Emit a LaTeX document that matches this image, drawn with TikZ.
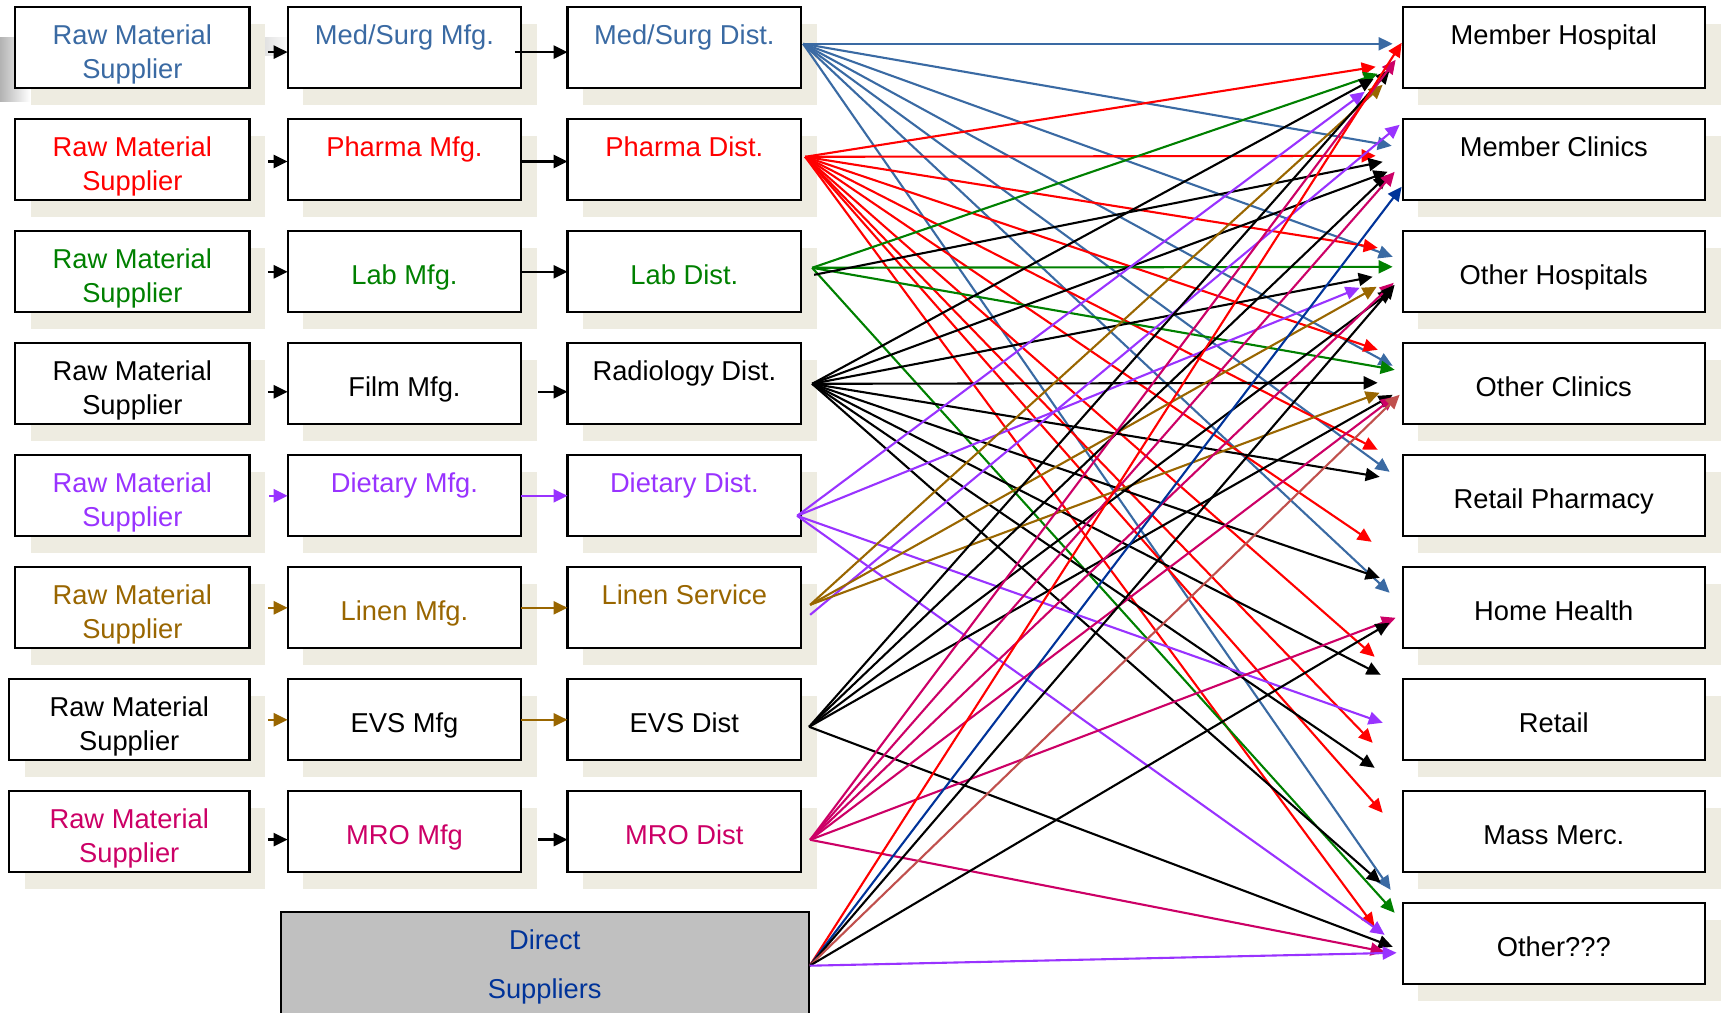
\documentclass[tikz,border=0pt]{standalone}
\usepackage{fontspec}
\setmainfont{Liberation Sans}
\usepackage{tikz}
\usetikzlibrary{arrows.meta, positioning, calc, shadows}
\definecolor{msblue}{RGB}{58,106,163}
\definecolor{phred}{RGB}{255,0,0}
\definecolor{lbgreen}{RGB}{0,128,0}
\definecolor{dtpurple}{RGB}{153,51,255}
\definecolor{lnbrown}{RGB}{153,102,0}
\definecolor{mrmagenta}{RGB}{204,0,102}
\definecolor{dsblue}{RGB}{0,51,153}
\definecolor{dsrust}{RGB}{192,80,77}
\definecolor{shtan}{RGB}{238,236,225}
\definecolor{dsgray}{RGB}{192,192,192}
\newcommand{\diagfont}{\fontsize{13.65pt}{16.8pt}\selectfont}
\newcommand{\dirfont}{\fontsize{13.65pt}{24.5pt}\selectfont}
\tikzset{
  box/.style={rectangle, draw=black, fill=white, line width=1.15pt,
    minimum height=40.5pt, inner sep=0pt, outer sep=0pt, align=center,
    font=\diagfont, text height=18.7pt, text depth=21.8pt,
    drop shadow={shadow xshift=7.8pt, shadow yshift=-8.2pt, fill=shtan, opacity=1}},
  midtext/.style={text height=26.65pt, text depth=13.85pt},
  twoline/.style={text height=35.5pt, text depth=5pt},
  wA/.style={minimum width=117.1pt},
  wAA/.style={minimum width=120.2pt},
  wB/.style={minimum width=116.8pt},
  wD/.style={minimum width=151.15pt},
  dirbox/.style={rectangle, draw=black, fill=dsgray, line width=1pt,
    minimum width=264pt, minimum height=60pt, inner sep=0pt, outer sep=0pt,
    align=center, font=\dirfont, text=dsblue, text height=43.3pt, text depth=16.7pt},
  steparrow/.style={-{Triangle[length=7pt,width=6.5pt]}, line width=1.3pt, color=black},
  arrow/.style={-{Triangle[length=7pt,width=6.5pt]}, line width=1.05pt, color=black},
  bluearrow/.style={arrow, color=msblue},
  redarrow/.style={arrow, color=phred},
  greenarrow/.style={arrow, color=lbgreen},
  purplearrow/.style={arrow, color=dtpurple},
  brownarrow/.style={arrow, color=lnbrown},
  magentaarrow/.style={arrow, color=mrmagenta},
  dblarrow/.style={arrow, color=dsblue},
  rustarrow/.style={arrow, color=dsrust}
}
\begin{document}
\begin{tikzpicture}[x=0.5pt, y=-0.5pt]
  \useasboundingbox (0,0) rectangle (1721,1013);
  \clip (0,0) rectangle (1721,1013);
  % slide leftovers behind the first row
  \shade[left color=gray!60, right color=white] (0,37) rectangle (30,101);
  \shade[left color=gray!35, right color=white] (250,37) rectangle (292,55);

  % manufacturers
  \node[box, wB, text=msblue] (msmfg) at (404.45,47.8) {Med/Surg Mfg.};
  \node[box, wB, text=phred, below=15.5pt of msmfg] (phmfg) {Pharma Mfg.};
  \node[box, midtext, wB, text=lbgreen, below=15.5pt of phmfg] (lbmfg) {Lab Mfg.};
  \node[box, midtext, wB, below=15.5pt of lbmfg] (flmfg) {Film Mfg.};
  \node[box, wB, text=dtpurple, below=15.5pt of flmfg] (dtmfg) {Dietary Mfg.};
  \node[box, midtext, wB, text=lnbrown, below=15.5pt of dtmfg] (lnmfg) {Linen Mfg.};
  \node[box, midtext, wB, below=15.5pt of lnmfg] (evmfg) {EVS Mfg};
  \node[box, midtext, wB, text=mrmagenta, below=15.5pt of evmfg] (mrmfg) {MRO Mfg};

  % raw material suppliers
  \node[box, twoline, wA, text=msblue, left=19.1pt of msmfg] (rms1) {Raw Material\\Supplier};
  \node[box, twoline, wA, text=phred, left=19.1pt of phmfg] (rms2) {Raw Material\\Supplier};
  \node[box, twoline, wA, text=lbgreen, left=19.1pt of lbmfg] (rms3) {Raw Material\\Supplier};
  \node[box, twoline, wA, left=19.1pt of flmfg] (rms4) {Raw Material\\Supplier};
  \node[box, twoline, wA, text=dtpurple, left=19.1pt of dtmfg] (rms5) {Raw Material\\Supplier};
  \node[box, twoline, wA, text=lnbrown, left=19.1pt of lnmfg] (rms6) {Raw Material\\Supplier};
  \node[box, twoline, wAA, left=19.1pt of evmfg] (rms7) {Raw Material\\Supplier};
  \node[box, twoline, wAA, text=mrmagenta, left=19.1pt of mrmfg] (rms8) {Raw Material\\Supplier};

  % distributors
  \node[box, wB, text=msblue, right=23.15pt of msmfg] (msdist) {Med/Surg Dist.};
  \node[box, wB, text=phred, right=23.15pt of phmfg] (phdist) {Pharma Dist.};
  \node[box, midtext, wB, text=lbgreen, right=23.15pt of lbmfg] (lbdist) {Lab Dist.};
  \node[box, wB, right=23.15pt of flmfg] (rddist) {Radiology Dist.};
  \node[box, wB, text=dtpurple, right=23.15pt of dtmfg] (dtdist) {Dietary Dist.};
  \node[box, wB, text=lnbrown, right=23.15pt of lnmfg] (lnserv) {Linen Service};
  \node[box, midtext, wB, right=23.15pt of evmfg] (evdist) {EVS Dist};
  \node[box, midtext, wB, text=mrmagenta, right=23.15pt of mrmfg] (mrdist) {MRO Dist};

  \node[dirbox] (direct) at (544.75,971.7) {Direct\\Suppliers};

  % customers
  \node[box, wD, right=300.75pt of msdist] (mhosp) {Member Hospital};
  \node[box, wD, below=15.5pt of mhosp] (mclin) {Member Clinics};
  \node[box, midtext, wD, below=15.5pt of mclin] (ohosp) {Other Hospitals};
  \node[box, midtext, wD, below=15.5pt of ohosp] (oclin) {Other Clinics};
  \node[box, midtext, wD, below=15.5pt of oclin] (rpharm) {Retail Pharmacy};
  \node[box, midtext, wD, below=15.5pt of rpharm] (hhealth) {Home Health};
  \node[box, midtext, wD, below=15.5pt of hhealth] (retail) {Retail};
  \node[box, midtext, wD, below=15.5pt of retail] (massm) {Mass Merc.};
  \node[box, midtext, wD, below=15.5pt of massm] (other) {Other???};

  % supplier -> manufacturer -> distributor
  \draw[steparrow] ($(rms1.east)+(18.5,4.3)$) -- ($(msmfg.west)+(0,4.3)$);
  \draw[steparrow] ($(msmfg.east)+(-6.4,4.3)$) -- ($(msdist.west)+(0,4.3)$);
  \draw[steparrow] ($(rms2.east)+(18.5,1.7)$) -- ($(phmfg.west)+(0,1.7)$);
  \draw[steparrow] ($(phmfg.east)+(-1,1.7)$) -- ($(phdist.west)+(0,1.7)$);
  \draw[steparrow] ($(rms3.east)+(18.5,0)$) -- (lbmfg.west);
  \draw[steparrow] (lbmfg.east) -- (lbdist.west);
  \draw[steparrow] ($(rms4.east)+(18.5,8)$) -- ($(flmfg.west)+(0,8)$);
  \draw[steparrow] ($(flmfg.east)+(17,8)$) -- ($(rddist.west)+(0,8)$);
  \draw[steparrow, color=dtpurple] ($(rms5.east)+(20,0)$) -- (dtmfg.west);
  \draw[steparrow, color=dtpurple] (dtmfg.east) -- (dtdist.west);
  \draw[steparrow, color=lnbrown] ($(rms6.east)+(18.5,0)$) -- (lnmfg.west);
  \draw[steparrow, color=lnbrown] (lnmfg.east) -- (lnserv.west);
  \draw[steparrow, color=lnbrown] ($(rms7.east)+(18.5,0)$) -- (evmfg.west);
  \draw[steparrow, color=lnbrown] (evmfg.east) -- (evdist.west);
  \draw[steparrow] ($(rms8.east)+(18.5,7.8)$) -- ($(mrmfg.west)+(0,7.8)$);
  \draw[steparrow] ($(mrmfg.east)+(17,7.8)$) -- ($(mrdist.west)+(0,7.8)$);

  % where the flows leave each distributor
  \coordinate (msO) at ($(msdist.east)+(2,-4)$);
  \coordinate (phO) at ($(phdist.east)+(4,-3)$);
  \coordinate (lbO) at ($(lbdist.east)+(11,-4)$);
  \coordinate (lbK) at ($(lbdist.east)+(13,3)$);
  \coordinate (rdO) at ($(rddist.east)+(11,0)$);
  \coordinate (dtO) at ($(dtdist.east)+(-4,20)$);
  \coordinate (lnO) at ($(lnserv.east)+(9,-3)$);
  \coordinate (lnP) at ($(lnserv.east)+(9,7)$);
  \coordinate (evO) at ($(evdist.east)+(8,7)$);
  \coordinate (mrO) at ($(mrdist.east)+(9,8)$);
  \coordinate (dsO) at ($(direct.east)+(1,-6)$);

  % med/surg
  \draw[bluearrow] (msO) -- ($(mhosp.west)+(-10,-4)$);
  \draw[bluearrow] (msO) -- ($(mclin.west)+(-11,-14)$);
  \draw[bluearrow] (msO) -- ($(ohosp.west)+(-10,-15)$);
  \draw[bluearrow] (msO) -- ($(oclin.west)+(-10,-18)$);
  \draw[bluearrow] (msO) -- ($(rpharm.west)+(-13,-24)$);
  \draw[bluearrow] (msO) -- ($(hhealth.west)+(-13,-15)$);
  \draw[bluearrow] (msO) -- ($(other.west)+(-12,-54)$);
  % pharma
  \draw[redarrow] (phO) -- ($(mhosp.west)+(-27,19)$);
  \draw[redarrow] (phO) -- ($(mclin.west)+(-27,-4)$);
  \draw[redarrow] (phO) -- ($(ohosp.west)+(-25,-24)$);
  \draw[redarrow] (phO) -- ($(oclin.west)+(-25,-34)$);
  \draw[redarrow] (phO) -- ($(rpharm.west)+(-25,-46)$);
  \draw[redarrow] (phO) -- ($(hhealth.west)+(-31,-66)$);
  \draw[redarrow] (phO) -- ($(retail.west)+(-28,-63)$);
  \draw[redarrow] (phO) -- ($(retail.west)+(-30,23)$);
  \draw[redarrow] (phO) -- ($(massm.west)+(-20,-19)$);
  \draw[redarrow] (phO) -- ($(other.west)+(-28,-17)$);
  % lab
  \draw[greenarrow] (lbO) -- ($(mhosp.west)+(-25,26)$);
  \draw[greenarrow] (lbO) -- ($(ohosp.west)+(-10,-5)$);
  \draw[greenarrow] (lbO) -- ($(oclin.west)+(-8,-14)$);
  \draw[greenarrow] (lbO) -- ($(other.west)+(-8,-31)$);
  \draw[arrow] (lbK) -- ($(mclin.west)+(-20,2)$);
  % radiology
  \draw[arrow] (rdO) -- ($(mhosp.west)+(-29,31)$);
  \draw[arrow] (rdO) -- ($(mclin.west)+(-15,12)$);
  \draw[arrow] (rdO) -- ($(ohosp.west)+(-30,5)$);
  \draw[arrow] (rdO) -- ($(oclin.west)+(-25,-1)$);
  \draw[arrow] (rdO) -- ($(rpharm.west)+(-23,-19)$);
  \draw[arrow] (rdO) -- ($(hhealth.west)+(-23,-30)$);
  \draw[arrow] (rdO) -- ($(retail.west)+(-22,-45)$);
  \draw[arrow] (rdO) -- ($(massm.west)+(-28,-64)$);
  \draw[arrow] (rdO) -- ($(other.west)+(-22,-61)$);
  % dietary
  \draw[purplearrow] (dtO) -- ($(mhosp.west)+(-38,44)$);
  \draw[purplearrow] (dtO) -- ($(ohosp.west)+(-43,16)$);
  \draw[purplearrow] (dtO) -- ($(retail.west)+(-20,3)$);
  \draw[purplearrow] (dtO) -- ($(other.west)+(-18,-9)$);
  \draw[purplearrow] (lnP) -- ($(mclin.west)+(-3,-35)$);
  % linen
  \draw[brownarrow] (lnO) -- ($(mhosp.west)+(-20,37)$);
  \draw[brownarrow] (lnO) -- ($(ohosp.west)+(-26,15)$);
  \draw[brownarrow] (lnO) -- ($(oclin.west)+(-23,9)$);
  % evs
  \draw[arrow] (evO) -- ($(mhosp.west)+(-13,22)$);
  \draw[arrow] (evO) -- ($(mclin.west)+(-15,15)$);
  \draw[arrow] (evO) -- ($(ohosp.west)+(-10,18)$);
  \draw[arrow] (evO) -- ($(oclin.west)+(-10,11)$);
  \draw[arrow] (evO) -- ($(other.west)+(-10,3)$);
  % mro
  \draw[magentaarrow] (mrO) -- ($(mhosp.west)+(-7,12)$);
  \draw[magentaarrow] (mrO) -- ($(mclin.west)+(-8,12)$);
  \draw[magentaarrow] (mrO) -- ($(ohosp.west)+(-9,11)$);
  \draw[magentaarrow] (mrO) -- ($(oclin.west)+(-8,13)$);
  \draw[magentaarrow] (mrO) -- ($(hhealth.west)+(-7,10)$);
  \draw[magentaarrow] (mrO) -- ($(other.west)+(-18,8)$);
  % direct
  \draw[redarrow] (dsO) -- ($(mhosp.west)+(-1,-5)$);
  \draw[dblarrow] (dsO) -- ($(mclin.west)+(-1,27)$);
  \draw[arrow] (dsO) -- ($(ohosp.west)+(-8,13)$);
  \draw[rustarrow] (dsO) -- ($(oclin.west)+(-3,11)$);
  \draw[arrow] (dsO) -- ($(hhealth.west)+(-13,15)$);
  \draw[purplearrow] (dsO) -- ($(other.west)+(-6,9)$);
\end{tikzpicture}
\end{document}
